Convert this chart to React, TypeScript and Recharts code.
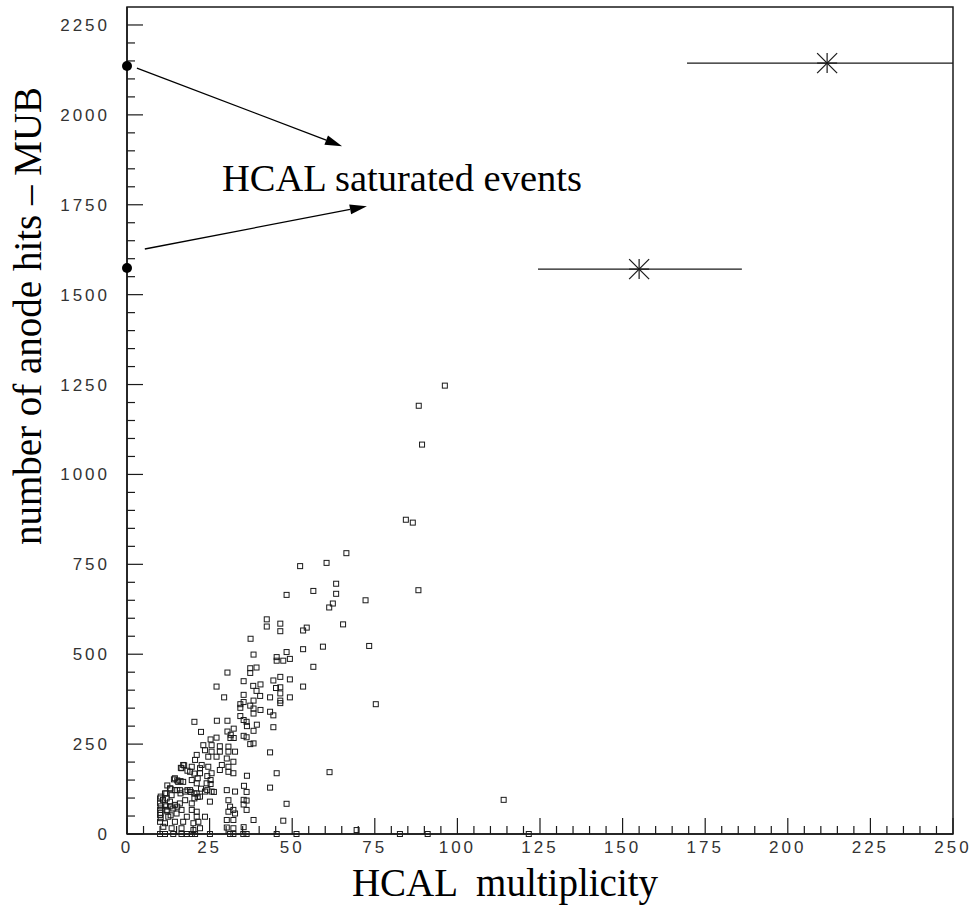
import React from "react";
import {
  ErrorBar,
  ReferenceArea,
  ReferenceLine,
  Scatter,
  ScatterChart,
  XAxis,
  YAxis,
} from "recharts";

// [HCAL multiplicity, anode hits]

// lower-left dense cluster
const lowCluster: [number, number][] = [
  [23.1, 247], [25.6, 247], [28.1, 244], [30.7, 243], [23.6, 233], [25.6, 229], [28.1, 229],
  [30.7, 229], [32.7, 229], [21.1, 220], [24.6, 215], [27.1, 215], [30.2, 210], [32.2, 201],
  [20.6, 206], [22.6, 192], [19.6, 187], [22.1, 183], [24.6, 187], [28.7, 192], [30.7, 187],
  [17.0, 192], [16.5, 183], [19.1, 173], [22.1, 169], [25.6, 169], [28.1, 178], [30.7, 173],
  [32.2, 169], [14.5, 155], [15.5, 145], [17.0, 145], [19.6, 150], [21.1, 141], [24.1, 141],
  [25.6, 118], [30.2, 122], [32.7, 118], [13.0, 127], [14.5, 122], [11.5, 113], [10.0, 99],
  [12.0, 99], [13.5, 108], [16.0, 122], [17.6, 118], [19.1, 122], [21.1, 113], [23.6, 118],
  [10.0, 85], [11.5, 81], [13.0, 90], [14.5, 81], [16.0, 85], [17.6, 94], [19.6, 85],
  [22.1, 104], [25.1, 90], [10.0, 67], [12.0, 67], [14.0, 71], [16.5, 67], [19.6, 67],
  [21.1, 62], [10.0, 53], [12.5, 48], [15.0, 57], [18.1, 48], [21.1, 48], [23.6, 48],
  [30.7, 94], [31.2, 76], [30.7, 62], [32.2, 67], [32.7, 57], [10.0, 34], [11.5, 30],
  [14.5, 34], [17.0, 34], [20.1, 30], [21.6, 34], [30.2, 39], [32.2, 39], [11.0, 20],
  [13.5, 16], [16.5, 16], [20.1, 11], [22.1, 16], [30.2, 18], [32.2, 16], [10.0, 0],
  [11.5, 0], [14.0, 0], [16.5, 0], [18.1, 0], [19.6, 0], [20.6, 0], [25.1, 0], [31.2, 0],
  [32.2, 0], [10.2, 104], [10.9, 95], [11.9, 113], [12.2, 135], [13.2, 126], [10.2, 77],
  [11.9, 77], [13.2, 77], [10.2, 59], [10.2, 44], [12.2, 63], [13.2, 52], [15.2, 76],
  [18.3, 122], [19.3, 117], [20.4, 113], [21.4, 103], [20.4, 99], [16.2, 113], [15.2, 122],
  [14.2, 152], [15.2, 149], [16.2, 147], [17.3, 191], [16.3, 184], [18.3, 176], [20.4, 168],
  [21.4, 155], [24.3, 161], [25.3, 150], [25.3, 139], [26.3, 117], [24.3, 122], [22.4, 126],
];

// main correlated band
const mainBand: [number, number][] = [
  [52.4, 745], [60.4, 754], [63.3, 696], [48.3, 665], [56.4, 676], [63.3, 668], [62.3, 641],
  [61.2, 630], [72.2, 650], [88.2, 678], [65.4, 583], [42.3, 597], [42.3, 577], [46.4, 585],
  [46.4, 564], [53.3, 566], [54.4, 574], [37.4, 543], [73.3, 523], [59.3, 521], [53.3, 514],
  [38.3, 499], [45.3, 492], [45.3, 482], [47.3, 482], [49.3, 487], [48.3, 506], [56.4, 465],
  [37.3, 461], [39.2, 463], [37.3, 448], [30.4, 449], [27.1, 410], [35.3, 425], [38.2, 412],
  [40.4, 416], [44.3, 427], [46.4, 437], [49.3, 430], [45.1, 406], [46.4, 408], [46.4, 391],
  [46.4, 371], [46.4, 364], [53.3, 410], [49.3, 380], [43.3, 380], [39.2, 398], [40.3, 384],
  [29.4, 380], [35.3, 387], [35.3, 367], [38.3, 371], [34.3, 361], [37.3, 357], [38.3, 349],
  [38.3, 335], [34.3, 351], [34.3, 328], [40.4, 345], [43.3, 340], [44.3, 330], [44.3, 297],
  [75.3, 361], [35.3, 317], [36.2, 312], [39.3, 304], [38.3, 287], [36.3, 300], [20.4, 312],
  [27.2, 315], [30.4, 315], [22.4, 284], [32.3, 293], [30.4, 285], [31.4, 276], [32.3, 267],
  [31.3, 267], [27.1, 268], [25.3, 263], [35.3, 273], [36.2, 269],
];

// sparse points and long tail
const sparse: [number, number][] = [
  [37.3, 250], [38.3, 252], [43.3, 227], [36.3, 162], [45.3, 169], [61.3, 172], [36.2, 117],
  [35.4, 134], [43.3, 129], [35.3, 95], [36.2, 93], [35.3, 82], [36.2, 67], [35.3, 19],
  [38.3, 39], [47.3, 37], [48.3, 84], [35.2, 0], [36.2, 0], [45.3, 0], [51.3, 0], [69.5, 11],
  [82.6, 0], [91.0, 0], [121.6, 0], [114.0, 95], [66.4, 781], [96.2, 1247], [88.3, 1191],
  [89.3, 1083], [84.4, 874], [86.5, 866],
];

// saturated HCAL events (plotted at 0) and their corrected positions
const saturatedX = [0, 0];
const saturatedY = [2136, 1574];
const correctedX = [211.9, 155.0];
const correctedY = [2144, 1571];
const correctedErrLow = [42.4, 30.6];
const correctedErrHigh = [38.1, 31.1];

const xTicks = Array.from({ length: 51 }, (_, i) => i * 5);
const yTicks = Array.from({ length: 46 }, (_, i) => i * 50);

const X_MAX = 250;
const Y_MAX = 2300;
const PLOT_W = 826;
const PLOT_H = 827;

const hits = [...lowCluster, ...mainBand, ...sparse].map(([x, y]) => ({ x, y }));
const saturated = saturatedX.map((x, i) => ({ x, y: saturatedY[i] }));
const corrected = correctedX.map((x, i) => ({
  x,
  y: correctedY[i],
  errX: [correctedErrLow[i], correctedErrHigh[i]],
}));

const INK = "#1a1a1a";
const TICK_FONT = "'Liberation Sans', Arial, sans-serif";
const SERIF = "'Liberation Serif', 'Times New Roman', serif";

// tick lengths in pixels, converted to data units so they point inward
const xTickLen = (v: number) => ((v % 25 === 0 ? 16 : 8) * Y_MAX) / PLOT_H;
const yTickLen = (v: number) => ((v % 250 === 0 ? 16 : 8) * X_MAX) / PLOT_W;

const XTick = ({ x, y, payload }: any) =>
  payload.value % 25 === 0 ? (
    <text
      x={x}
      y={y + 19}
      textAnchor="middle"
      fontFamily={TICK_FONT}
      fontSize={17}
      letterSpacing={3}
      fill="#333"
    >
      {payload.value}
    </text>
  ) : (
    <g />
  );

const YTick = ({ x, y, payload }: any) =>
  payload.value % 250 === 0 ? (
    <text
      x={x - 17}
      y={y + 6}
      textAnchor="end"
      fontFamily={TICK_FONT}
      fontSize={17}
      letterSpacing={3}
      fill="#333"
    >
      {payload.value}
    </text>
  ) : (
    <g />
  );

const OpenSquare = ({ cx, cy }: any) => (
  <rect x={cx - 2.5} y={cy - 2.5} width={5} height={5} fill="none" stroke={INK} strokeWidth={1} />
);

const Dot = ({ cx, cy }: any) => <circle cx={cx} cy={cy} r={5} fill="#000" />;

const Star = ({ cx, cy }: any) => {
  const r = 10;
  return (
    <g stroke={INK} strokeWidth={1.2}>
      <line x1={cx - r} x2={cx + r} y1={cy} y2={cy} />
      <line x1={cx} x2={cx} y1={cy - r} y2={cy + r} />
      <line x1={cx - r} x2={cx + r} y1={cy - r} y2={cy + r} />
      <line x1={cx - r} x2={cx + r} y1={cy + r} y2={cy - r} />
    </g>
  );
};

const Arrow = ({ x1, y1, x2, y2 }: any) => {
  const dx = x2 - x1;
  const dy = y2 - y1;
  const len = Math.sqrt(dx * dx + dy * dy) || 1;
  const ux = dx / len;
  const uy = dy / len;
  const hl = 17;
  const hw = 5;
  const bx = x2 - ux * hl;
  const by = y2 - uy * hl;
  return (
    <g>
      <line x1={x1} y1={y1} x2={bx} y2={by} stroke="#000" strokeWidth={1.3} />
      <polygon
        points={`${x2},${y2} ${bx - uy * hw},${by + ux * hw} ${bx + uy * hw},${by - ux * hw}`}
        fill="#000"
      />
    </g>
  );
};

export default function App() {
  return (
    <div style={{ position: "absolute", left: 0, top: 0, background: "#fff" }}>
      <ScatterChart width={978} height={911} margin={{ top: 7, right: 25, bottom: 0, left: 0 }}>
        <XAxis
          type="number"
          dataKey="x"
          domain={[0, X_MAX]}
          ticks={xTicks}
          interval={0}
          height={77}
          tickSize={0}
          tickMargin={0}
          tick={<XTick />}
          axisLine={{ stroke: INK, strokeWidth: 1.5 }}
          tickLine={false}
        />
        <YAxis
          type="number"
          dataKey="y"
          domain={[0, Y_MAX]}
          ticks={yTicks}
          interval={0}
          width={127}
          tickSize={0}
          tickMargin={0}
          tick={<YTick />}
          axisLine={{ stroke: INK, strokeWidth: 1.5 }}
          tickLine={false}
        />
        <ReferenceArea
          x1={0}
          x2={X_MAX}
          y1={0}
          y2={Y_MAX}
          fill="none"
          stroke={INK}
          strokeWidth={1.5}
          fillOpacity={0}
        />
        {xTicks.map((v) => (
          <ReferenceLine
            key={`xt${v}`}
            segment={[{ x: v, y: 0 }, { x: v, y: xTickLen(v) }]}
            stroke={INK}
            strokeWidth={1.2}
          />
        ))}
        {yTicks.map((v) => (
          <ReferenceLine
            key={`yt${v}`}
            segment={[{ x: 0, y: v }, { x: yTickLen(v), y: v }]}
            stroke={INK}
            strokeWidth={1.2}
          />
        ))}
        <Scatter data={hits} shape={<OpenSquare />} isAnimationActive={false} />
        <Scatter data={corrected} shape={<Star />} isAnimationActive={false}>
          <ErrorBar dataKey="errX" direction="x" width={0} stroke={INK} strokeWidth={1.2} />
        </Scatter>
        <Scatter data={saturated} shape={<Dot />} isAnimationActive={false} />
        <ReferenceLine
          segment={[{ x: 3.0, y: 2130 }, { x: 65.1, y: 1913 }]}
          shape={<Arrow />}
          ifOverflow="visible"
        />
        <ReferenceLine
          segment={[{ x: 5.4, y: 1627 }, { x: 72.6, y: 1746 }]}
          shape={<Arrow />}
          ifOverflow="visible"
        />
        <text x={222} y={191} fontFamily={SERIF} fontSize={38.5} fill="#000">
          HCAL saturated events
        </text>
        <text
          x={505}
          y={896}
          textAnchor="middle"
          fontFamily={SERIF}
          fontSize={39}
          fill="#000"
          style={{ whiteSpace: "pre" }}
        >
          {"HCAL  multiplicity"}
        </text>
        <text
          x={41}
          y={316}
          textAnchor="middle"
          transform="rotate(-90 41 316)"
          fontFamily={SERIF}
          fontSize={39}
          fill="#000"
        >
          number of anode hits – MUB
        </text>
      </ScatterChart>
    </div>
  );
}
